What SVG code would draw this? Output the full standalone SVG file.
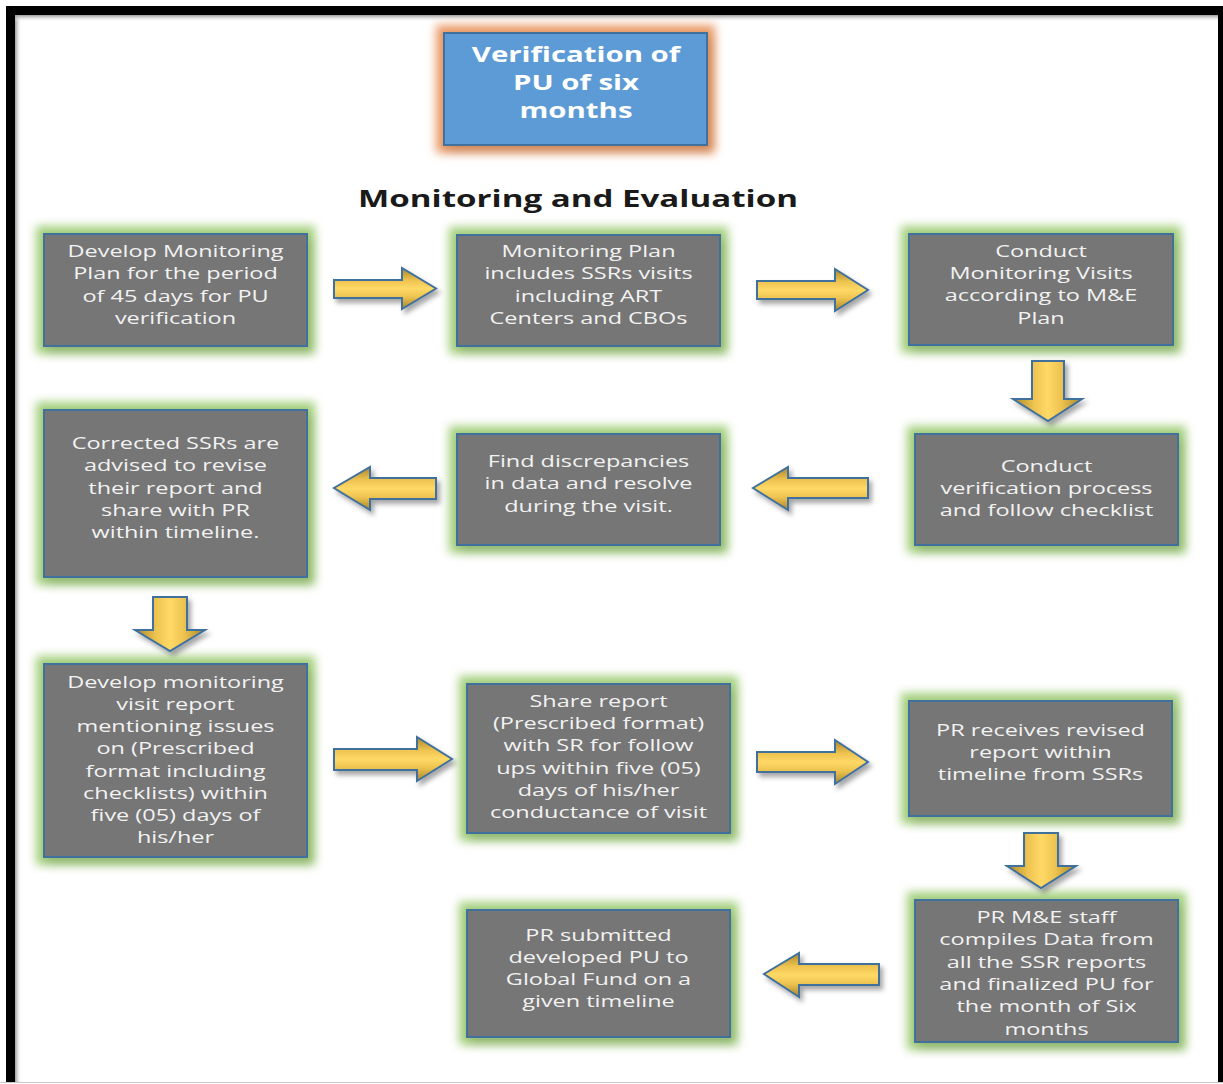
<svg xmlns="http://www.w3.org/2000/svg" width="1223" height="1084" viewBox="0 0 1223 1084">
<style>
.box{fill:#767676;stroke:#41719C;stroke-width:2}
.t{font-family:"Open Sans","DejaVu Sans",sans-serif;font-size:17px;fill:#F2F2F2;text-anchor:middle}
.tt{font-family:"Open Sans","DejaVu Sans",sans-serif;font-size:21px;font-weight:bold;fill:#FFFFFF;text-anchor:middle}
.hd{font-family:"Open Sans","DejaVu Sans",sans-serif;font-size:24px;font-weight:bold;fill:#1A1A1A;text-anchor:middle}
.ah{fill:url(#gh);stroke:#41719C;stroke-width:2;stroke-linejoin:miter;filter:url(#ash)}
.av{fill:url(#gv);stroke:#41719C;stroke-width:2;stroke-linejoin:miter;filter:url(#ash)}
</style>
<defs>
<filter id="glowG" x="-25%" y="-25%" width="150%" height="150%">
<feMorphology in="SourceAlpha" operator="dilate" radius="7" result="d"/>
<feGaussianBlur in="d" stdDeviation="5" result="b"/>
<feFlood flood-color="#A3CF7C" flood-opacity="1"/>
<feComposite in2="b" operator="in" result="g"/>
<feGaussianBlur in="SourceAlpha" stdDeviation="5" result="s"/>
<feOffset in="s" dx="4" dy="6" result="so"/>
<feFlood flood-color="#000" flood-opacity="0.25"/>
<feComposite in2="so" operator="in" result="sh"/>
<feMerge><feMergeNode in="g"/><feMergeNode in="sh"/><feMergeNode in="SourceGraphic"/></feMerge>
</filter>
<filter id="glowO" x="-25%" y="-25%" width="150%" height="150%">
<feMorphology in="SourceAlpha" operator="dilate" radius="7" result="d"/>
<feGaussianBlur in="d" stdDeviation="5" result="b"/>
<feFlood flood-color="#EA9A66" flood-opacity="1"/>
<feComposite in2="b" operator="in" result="g"/>
<feGaussianBlur in="SourceAlpha" stdDeviation="5" result="s"/>
<feOffset in="s" dx="4" dy="6" result="so"/>
<feFlood flood-color="#000" flood-opacity="0.25"/>
<feComposite in2="so" operator="in" result="sh"/>
<feMerge><feMergeNode in="g"/><feMergeNode in="sh"/><feMergeNode in="SourceGraphic"/></feMerge>
</filter>
<filter id="ash" x="-20%" y="-30%" width="150%" height="170%">
<feGaussianBlur in="SourceAlpha" stdDeviation="2.5" result="s"/>
<feOffset in="s" dx="3" dy="4" result="so"/>
<feFlood flood-color="#000" flood-opacity="0.35"/>
<feComposite in2="so" operator="in" result="sh"/>
<feMerge><feMergeNode in="sh"/><feMergeNode in="SourceGraphic"/></feMerge>
</filter>
<linearGradient id="gh" x1="0" y1="0" x2="0" y2="1">
<stop offset="0" stop-color="#A8852A"/>
<stop offset="0.3" stop-color="#EEC350"/>
<stop offset="0.5" stop-color="#FFD966"/>
<stop offset="0.7" stop-color="#EEC350"/>
<stop offset="1" stop-color="#A8852A"/>
</linearGradient>
<linearGradient id="gv" x1="0" y1="0" x2="1" y2="0">
<stop offset="0" stop-color="#A8852A"/>
<stop offset="0.3" stop-color="#EEC350"/>
<stop offset="0.5" stop-color="#FFD966"/>
<stop offset="0.7" stop-color="#EEC350"/>
<stop offset="1" stop-color="#A8852A"/>
</linearGradient>
<linearGradient id="shL" x1="0" y1="0" x2="1" y2="0">
<stop offset="0" stop-color="#9A9A9A"/>
<stop offset="1" stop-color="#FFFFFF" stop-opacity="0"/>
</linearGradient>
<linearGradient id="shT" x1="0" y1="0" x2="0" y2="1">
<stop offset="0" stop-color="#9A9A9A"/>
<stop offset="1" stop-color="#FFFFFF" stop-opacity="0"/>
</linearGradient>
</defs>

<g id="frame">
<rect x="0" y="0" width="1223" height="1084" fill="#FFFFFF"/>
<rect x="6" y="6" width="1217" height="1076" fill="#000000"/>
<rect x="15" y="15" width="1203" height="1067" fill="#FFFFFF"/>
<rect x="15" y="15" width="7" height="1067" fill="url(#shL)"/>
<rect x="15" y="15" width="1203" height="7" fill="url(#shT)"/>
<line x1="0" y1="1082.5" x2="1223" y2="1082.5" stroke="#C8C8C8" stroke-width="1"/>
</g>

<g id="title">
<rect x="444" y="33" width="263" height="112" fill="#5B9BD5" stroke="#41719C" stroke-width="2" filter="url(#glowO)"/>
<text class="tt" transform="translate(576 0) scale(1.4 1)"><tspan x="0" y="62">Verification of</tspan><tspan x="0" y="90">PU of six</tspan><tspan x="0" y="118">months</tspan></text>
</g>

<g id="heading">
<text class="hd" transform="translate(578 0) scale(1.38 1)" x="0" y="207">Monitoring and Evaluation</text>
</g>

<g id="n1">
<rect class="box" x="44" y="234" width="263" height="112" filter="url(#glowG)"/>
<text class="t" transform="translate(175.5 0) scale(1.38 1)"><tspan x="0" y="257">Develop Monitoring</tspan><tspan x="0" y="279">Plan for the period</tspan><tspan x="0" y="302">of 45 days for PU</tspan><tspan x="0" y="324">verification</tspan></text>
</g>

<g id="n2">
<rect class="box" x="457" y="235" width="263" height="111" filter="url(#glowG)"/>
<text class="t" transform="translate(588.5 0) scale(1.38 1)"><tspan x="0" y="257">Monitoring Plan</tspan><tspan x="0" y="279">includes SSRs visits</tspan><tspan x="0" y="302">including ART</tspan><tspan x="0" y="324">Centers and CBOs</tspan></text>
</g>

<g id="n3">
<rect class="box" x="909" y="234" width="264" height="111" filter="url(#glowG)"/>
<text class="t" transform="translate(1041 0) scale(1.38 1)"><tspan x="0" y="257">Conduct</tspan><tspan x="0" y="279">Monitoring Visits</tspan><tspan x="0" y="301">according to M&amp;E</tspan><tspan x="0" y="324">Plan</tspan></text>
</g>

<g id="n4">
<rect class="box" x="915" y="434" width="263" height="111" filter="url(#glowG)"/>
<text class="t" transform="translate(1046.5 0) scale(1.38 1)"><tspan x="0" y="472">Conduct</tspan><tspan x="0" y="494">verification process</tspan><tspan x="0" y="516">and follow checklist</tspan></text>
</g>

<g id="n5">
<rect class="box" x="457" y="434" width="263" height="111" filter="url(#glowG)"/>
<text class="t" transform="translate(588.5 0) scale(1.38 1)"><tspan x="0" y="467">Find discrepancies</tspan><tspan x="0" y="489">in data and resolve</tspan><tspan x="0" y="512">during the visit.</tspan></text>
</g>

<g id="n6">
<rect class="box" x="44" y="410" width="263" height="167" filter="url(#glowG)"/>
<text class="t" transform="translate(175.5 0) scale(1.38 1)"><tspan x="0" y="449">Corrected SSRs are</tspan><tspan x="0" y="471">advised to revise</tspan><tspan x="0" y="494">their report and</tspan><tspan x="0" y="516">share with PR</tspan><tspan x="0" y="538">within timeline.</tspan></text>
</g>

<g id="n7">
<rect class="box" x="44" y="664" width="263" height="193" filter="url(#glowG)"/>
<text class="t" transform="translate(175.5 0) scale(1.38 1)"><tspan x="0" y="688">Develop monitoring</tspan><tspan x="0" y="710">visit report</tspan><tspan x="0" y="732">mentioning issues</tspan><tspan x="0" y="754">on (Prescribed</tspan><tspan x="0" y="777">format including</tspan><tspan x="0" y="799">checklists) within</tspan><tspan x="0" y="821">five (05) days of</tspan><tspan x="0" y="843">his/her</tspan></text>
</g>

<g id="n8">
<rect class="box" x="467" y="684" width="263" height="149" filter="url(#glowG)"/>
<text class="t" transform="translate(598.5 0) scale(1.38 1)"><tspan x="0" y="707">Share report</tspan><tspan x="0" y="729">(Prescribed format)</tspan><tspan x="0" y="751">with SR for follow</tspan><tspan x="0" y="774">ups within five (05)</tspan><tspan x="0" y="796">days of his/her</tspan><tspan x="0" y="818">conductance of visit</tspan></text>
</g>

<g id="n9">
<rect class="box" x="909" y="701" width="263" height="115" filter="url(#glowG)"/>
<text class="t" transform="translate(1040.5 0) scale(1.38 1)"><tspan x="0" y="736">PR receives revised</tspan><tspan x="0" y="758">report within</tspan><tspan x="0" y="780">timeline from SSRs</tspan></text>
</g>

<g id="n10">
<rect class="box" x="915" y="900" width="263" height="142" filter="url(#glowG)"/>
<text class="t" transform="translate(1046.5 0) scale(1.38 1)"><tspan x="0" y="923">PR M&amp;E staff</tspan><tspan x="0" y="945">compiles Data from</tspan><tspan x="0" y="968">all the SSR reports</tspan><tspan x="0" y="990">and finalized PU for</tspan><tspan x="0" y="1012">the month of Six</tspan><tspan x="0" y="1035">months</tspan></text>
</g>

<g id="n11">
<rect class="box" x="467" y="910" width="263" height="127" filter="url(#glowG)"/>
<text class="t" transform="translate(598.5 0) scale(1.38 1)"><tspan x="0" y="941">PR submitted</tspan><tspan x="0" y="963">developed PU to</tspan><tspan x="0" y="985">Global Fund on a</tspan><tspan x="0" y="1007">given timeline</tspan></text>
</g>

<g id="connectors">
<path class="ah" d="M334,280 H402 V268 L436,288.5 L402,309 V298 H334 Z"/>
<path class="ah" d="M757,281 H835 V269 L868,290 L835,311 V299 H757 Z"/>
<path class="av" d="M1032,361 H1064 V399 H1082 L1048,421 L1013,399 H1032 Z"/>
<path class="ah" d="M868,478 V498 H788 V510 L753,488 L788,467 V478 Z"/>
<path class="ah" d="M436,478 V499 H370 V510 L334,488 L370,467 V478 Z"/>
<path class="av" d="M153,597 H187 V630 H205 L170,651 L135,630 H153 Z"/>
<path class="ah" d="M334,749 H417 V737 L452,759 L417,781 V770 H334 Z"/>
<path class="ah" d="M757,752 H835 V740 L868,762 L835,784 V772 H757 Z"/>
<path class="av" d="M1024,833 H1058 V866 H1076 L1041,888 L1007,866 H1024 Z"/>
<path class="ah" d="M879,964 V985 H799 V997 L764,974 L799,953 V964 Z"/>
</g>
</svg>
